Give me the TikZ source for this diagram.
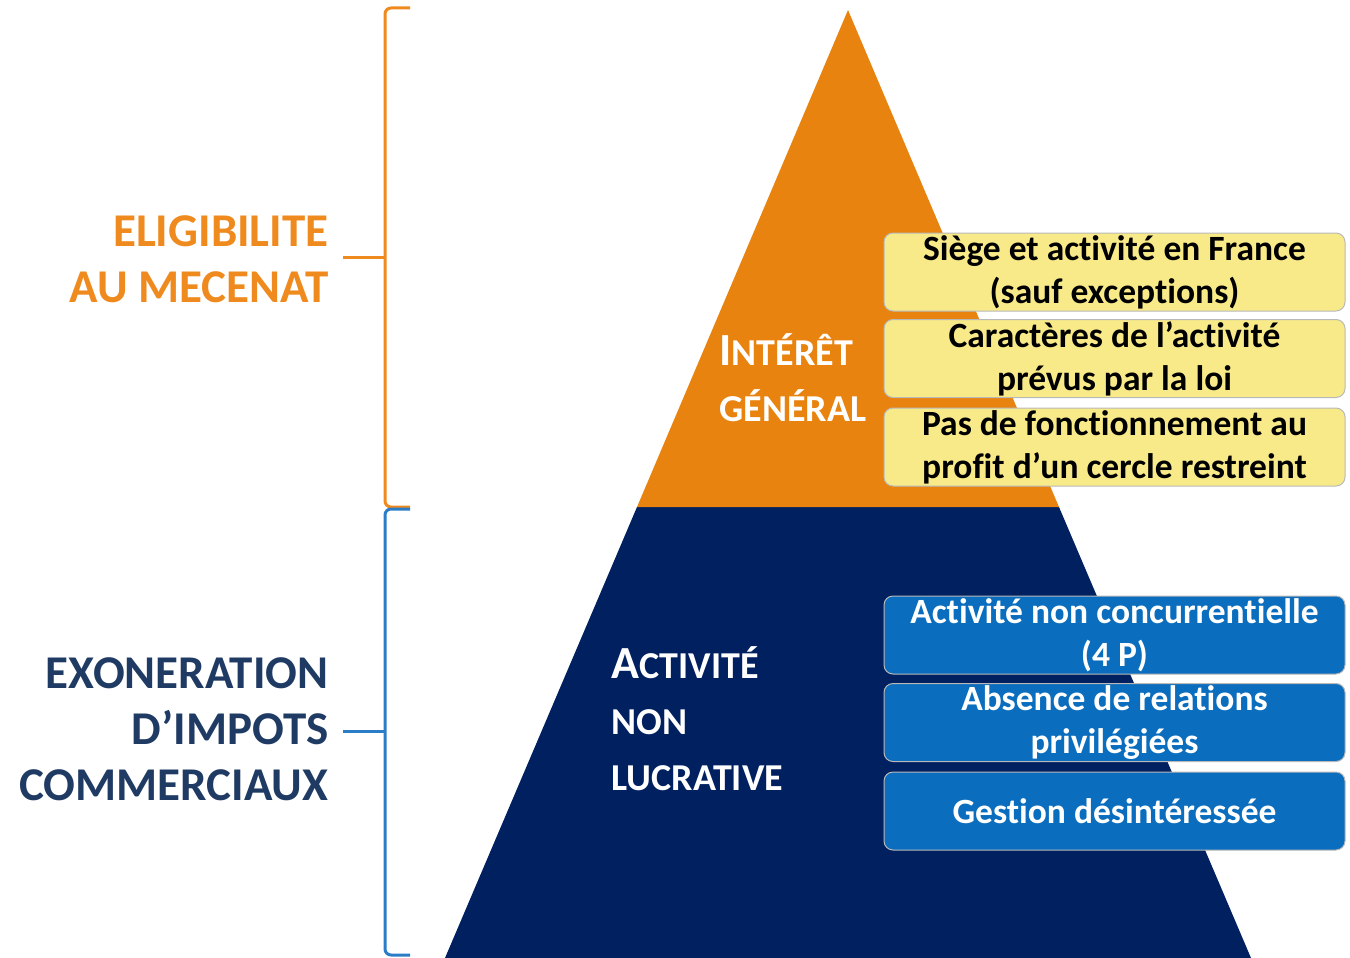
\documentclass[tikz,border=0pt]{standalone}
\usepackage{fontspec}
\setmainfont{Carlito}[Ligatures={NoCommon}]

\definecolor{orangePyr}{HTML}{E9830F}
\definecolor{orangeTxt}{HTML}{EF8A1F}
\definecolor{navyPyr}{HTML}{002060}
\definecolor{navyTxt}{HTML}{1F3B63}
\definecolor{jauneBox}{HTML}{F8EA88}
\definecolor{bleuBox}{HTML}{0B6DBD}
\definecolor{bleuAcc}{HTML}{2A7DC6}

\newcommand\gros{\fontsize{47}{56}\selectfont\bfseries}
\newcommand\moyen{\fontsize{46}{56}\selectfont\bfseries}
\newcommand\petit{\fontsize{38}{56}\selectfont\bfseries}
\newcommand\critere{\fontsize{35.5}{43}\selectfont\bfseries}

\tikzset{
  critjaune/.style={draw=gray!55, line width=1pt, fill=jauneBox, rounded corners=9pt,
    minimum width=461pt, minimum height=78pt, inner sep=0pt, align=center, font=\critere, text=black},
  critbleu/.style={critjaune, fill=bleuBox, text=white},
  accolade/.style={line width=3pt, rounded corners=6pt},
}

\begin{document}
\begin{tikzpicture}[x=1pt,y=-1pt]
\useasboundingbox (0,0) rectangle (1350,958);
% pyramide
\fill[navyPyr] (637,507)--(1059,507)--(1251,958)--(445,958)--cycle;
\fill[orangePyr] (848,10)--(1059,507)--(637,507)--cycle;
% accolades
\draw[accolade,orangeTxt] (410,8)--(385,8)--(385,507)--(410,507);
\draw[accolade,orangeTxt] (385,257)--(343,257);
\draw[accolade,bleuAcc] (410,509)--(385,509)--(385,955)--(410,955);
\draw[accolade,bleuAcc] (385,731)--(343,731);
% titres
\node[anchor=east, align=right, font=\gros, text=orangeTxt] (eligib) at (332,259)
  {ELIGIBILITE\\AU MECENAT};
\node[anchor=east, align=right, font=\gros, text=navyTxt] (exoner) at (332,729)
  {EXONERATION\\D’IMPOTS\\COMMERCIAUX};
\node[anchor=west, align=left, font=\moyen, text=white] (interet) at (716,378)
  {I{\petit NTÉRÊT}\\{\petit GÉNÉRAL}};
\node[anchor=west, align=left, font=\moyen, text=white] (activite) at (608,719)
  {A{\petit CTIVITÉ}\\{\petit NON}\\{\petit LUCRATIVE}};
% criteres
\node[critjaune] (siege) at (1114.5,272) {Siège et activité en France\\(sauf exceptions)};
\node[critjaune] (caract) at (1114.5,358.5) {Caractères de l’activité\\prévus par la loi};
\node[critjaune] (cercle) at (1114.5,447) {Pas de fonctionnement au\\profit d’un cercle restreint};
\node[critbleu] (concur) at (1114.5,635) {Activité non concurrentielle\\(4 P)};
\node[critbleu] (relat) at (1114.5,722.5) {Absence de relations\\privilégiées};
\node[critbleu] (gestion) at (1114.5,811) {Gestion désintéressée};
\end{tikzpicture}
\end{document}
